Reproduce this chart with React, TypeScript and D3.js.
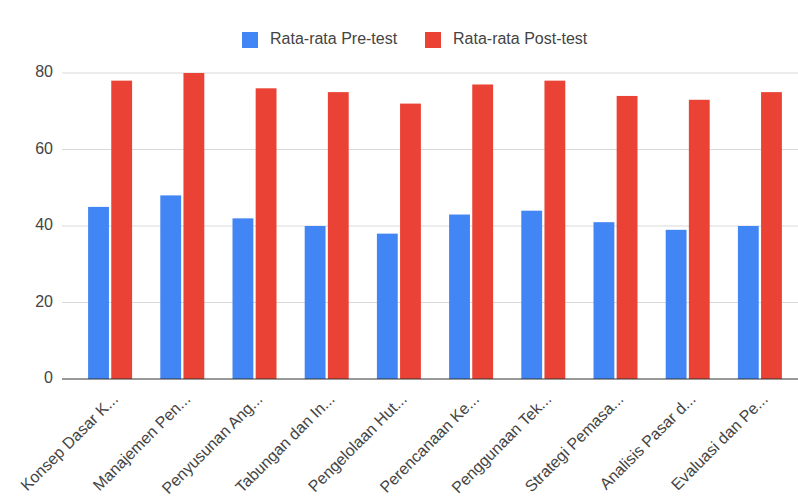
import React, { useEffect, useRef } from 'react';
import * as d3 from 'd3';

const categories = [
  'Konsep Dasar K...',
  'Manajemen Pen...',
  'Penyusunan Ang...',
  'Tabungan dan In...',
  'Pengelolaan Hut...',
  'Perencanaan Ke...',
  'Penggunaan Tek...',
  'Strategi Pemasa...',
  'Analisis Pasar d...',
  'Evaluasi dan Pe...',
];
const preTest = [45, 48, 42, 40, 38, 43, 44, 41, 39, 40];
const postTest = [78, 80, 76, 75, 72, 77, 78, 74, 73, 75];
const seriesNames = ['Rata-rata Pre-test', 'Rata-rata Post-test'];
const colors = ['#4285f4', '#ea4335'];
const yTicks = [0, 20, 40, 60, 80];

const W = 798;
const H = 497;

const App = () => {
  const svgRef = useRef<SVGSVGElement>(null);

  useEffect(() => {
    const svg = d3.select(svgRef.current);
    svg.selectAll('*').remove();
    const font = '"Liberation Sans", Arial, sans-serif';

    const plotLeft = 62;
    const plotRight = 798;
    const y = d3.scaleLinear().domain([0, 80]).range([379, 73]);
    const x = d3.scaleBand().domain(categories).range([74, 796]).paddingInner(0).paddingOuter(0);
    const inner = d3.scaleBand().domain(['0', '1']).range([-22, 22]).paddingInner(0.1);

    svg.append('rect').attr('width', W).attr('height', H).attr('fill', '#fff');

    // gridlines + y labels
    const g = svg.append('g');
    yTicks.forEach(t => {
      if (t !== 0) {
        g.append('line')
          .attr('x1', plotLeft).attr('x2', plotRight)
          .attr('y1', y(t)).attr('y2', y(t))
          .attr('stroke', '#d9d9d9').attr('stroke-width', 1);
      }
      g.append('text')
        .attr('x', 53).attr('y', y(t))
        .attr('text-anchor', 'end').attr('dominant-baseline', 'middle')
        .style('font-family', font).style('font-size', '16px')
        .attr('fill', '#444')
        .text(t);
    });

    // bars
    const series = [preTest, postTest];
    series.forEach((vals, si) => {
      svg.append('g').selectAll('rect')
        .data(vals)
        .join('rect')
        .attr('x', (d, i) => x(categories[i])! + x.bandwidth() / 2 + inner(String(si))!)
        .attr('y', d => y(d))
        .attr('width', inner.bandwidth())
        .attr('height', d => y(0) - y(d))
        .attr('fill', colors[si]);
    });

    // baseline
    svg.append('line')
      .attr('x1', plotLeft).attr('x2', plotRight)
      .attr('y1', y(0)).attr('y2', y(0))
      .attr('stroke', '#333').attr('stroke-width', 1);

    // x labels
    svg.append('g').selectAll('text')
      .data(categories)
      .join('text')
      .attr('transform', d => `translate(${x(d)! + x.bandwidth() / 2 + 9},${400}) rotate(-45)`)
      .attr('text-anchor', 'end')
      .style('font-family', font).style('font-size', '16px')
      .attr('fill', '#444')
      .text(d => d);

    // legend
    const legendX = [242, 425];
    seriesNames.forEach((name, i) => {
      svg.append('rect')
        .attr('x', legendX[i]).attr('y', 32)
        .attr('width', 16).attr('height', 16)
        .attr('fill', colors[i]);
      svg.append('text')
        .attr('x', legendX[i] + 28).attr('y', 40)
        .attr('dominant-baseline', 'middle')
        .style('font-family', font).style('font-size', '16px')
        .attr('fill', '#444')
        .text(name);
    });
  }, []);

  return (
    <svg
      ref={svgRef}
      width={W}
      height={H}
      style={{ position: 'absolute', left: 0, top: 0 }}
    />
  );
};

export default App;
